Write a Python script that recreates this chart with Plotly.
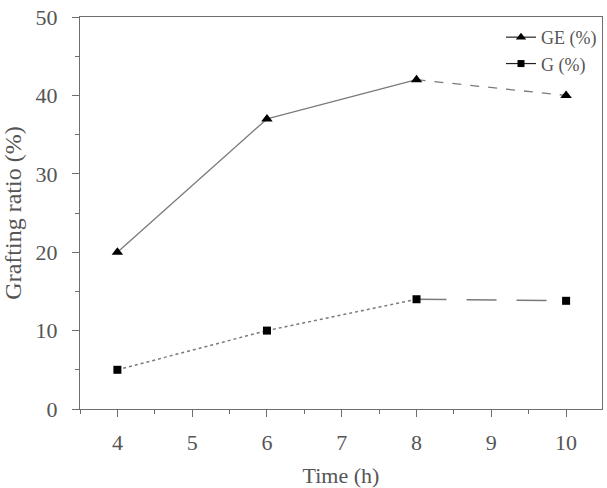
import plotly.graph_objects as go

time_h = [4, 6, 8, 10]
ge_pct = [20.0, 37.0, 42.0, 40.0]
g_pct = [5.0, 10.0, 14.0, 13.8]

x_ticks = [4, 5, 6, 7, 8, 9, 10]
y_ticks = [0, 10, 20, 30, 40, 50]

line_col = "#7a7a7a"
axis_col = "#6e6e6e"
text_col = "#555555"
font_fam = "Liberation Serif"

fig = go.Figure()

# GE segments
ge_styles = ["solid", "solid", "dash"]
for i, st in enumerate(ge_styles):
    fig.add_trace(go.Scatter(x=time_h[i:i+2], y=ge_pct[i:i+2], mode="lines",
                             line=dict(color=line_col, width=1.3, dash=st),
                             showlegend=False, hoverinfo="skip"))
# G segments
g_styles = ["dot", "dot", "30px,20px"]
for i, st in enumerate(g_styles):
    fig.add_trace(go.Scatter(x=time_h[i:i+2], y=g_pct[i:i+2], mode="lines",
                             line=dict(color=line_col, width=1.5, dash=st),
                             showlegend=False, hoverinfo="skip"))

fig.add_trace(go.Scatter(x=time_h, y=ge_pct, mode="markers", showlegend=False,
                         marker=dict(symbol="triangle-up", size=10, color="black")))
fig.add_trace(go.Scatter(x=time_h, y=g_pct, mode="markers", showlegend=False,
                         marker=dict(symbol="square", size=8, color="black")))

# legend entries
fig.add_trace(go.Scatter(x=[None], y=[None], mode="lines+markers", name="GE (%)",
                         marker=dict(symbol="triangle-up", size=9, color="black"),
                         line=dict(color="#222222", width=1.2)))
fig.add_trace(go.Scatter(x=[None], y=[None], mode="lines+markers", name="G (%)",
                         marker=dict(symbol="square", size=7, color="black"),
                         line=dict(color="#222222", width=1.2)))

axis_common = dict(showline=True, linecolor=axis_col, linewidth=1.3, mirror=True,
                   ticks="outside", tickcolor=axis_col, ticklen=7, tickwidth=1.3,
                   showgrid=False, zeroline=False, automargin=False,
                   tickfont=dict(family=font_fam, size=22, color=text_col))

fig.update_xaxes(range=[3.5, 10.48], tickvals=x_ticks, ticklabelstandoff=6,
                 minor=dict(ticks="outside", dtick=0.5, tick0=0.5, ticklen=4, tickcolor=axis_col),
                 title=dict(text="Time (h)", font=dict(family=font_fam, size=22, color=text_col), standoff=16),
                 **axis_common)
fig.update_yaxes(range=[0, 50], tickvals=y_ticks, ticklabelstandoff=10,
                 minor=dict(ticks="outside", dtick=5, ticklen=4, tickcolor=axis_col),
                 title=dict(text="Grafting ratio (%)", font=dict(family=font_fam, size=24, color=text_col), standoff=8),
                 **axis_common)

fig.update_layout(
    width=607, height=488,
    margin=dict(l=80, r=5, t=17, b=79),
    plot_bgcolor="white", paper_bgcolor="white",
    legend=dict(x=1.0, y=0.995, xanchor="right", yanchor="top",
                bgcolor="rgba(0,0,0,0)", tracegroupgap=0, itemwidth=30,
                font=dict(family=font_fam, size=18, color=text_col)),
)

fig.write_html("out.html")
